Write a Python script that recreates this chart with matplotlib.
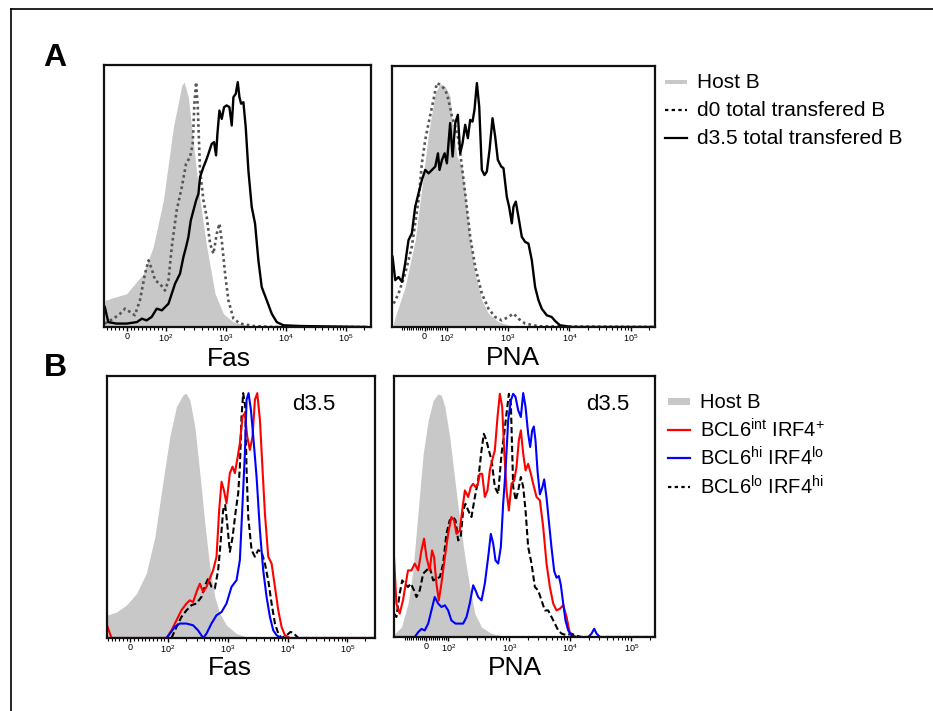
import matplotlib
matplotlib.use('Agg')
import matplotlib.pyplot as plt
from matplotlib.lines import Line2D
from matplotlib.patches import Rectangle

plt.rcParams['font.family'] = ['Liberation Sans', 'DejaVu Sans']
plt.rcParams['mathtext.fontset'] = 'custom'
plt.rcParams['mathtext.rm'] = 'Liberation Sans'
plt.rcParams['mathtext.it'] = 'Liberation Sans:italic'
plt.rcParams['mathtext.default'] = 'regular'
plt.rcParams['lines.solid_joinstyle'] = 'round'

# ---- A: Fas (x = fluorescence, y = % of max) ----
a_fas_host_x = [-56, 0, 43, 68, 94, 134, 185, 202, 238, 289, 372, 481, 662, 912, 1337, 2531, 6180]
a_fas_host_y = [10.9, 13.6, 21.8, 32.7, 51.7, 81.6, 98.6, 100, 93.9, 74.8, 51.7, 32.7, 13.6, 5.4, 2.0, 0.4, 0]

a_fas_d0_x = [-56, -34, -17, -4, 9, 21, 34, 47, 56, 64, 73, 85, 98, 111, 126, 152, 185, 218, 254,
              281, 300, 320, 341, 372, 424, 481, 547, 621, 706, 782, 855, 971, 1103, 1337, 1726,
              2878, 6180, 220800]
a_fas_d0_y = [1.4, 3.4, 5.4, 7.5, 6.1, 4.8, 10.9, 21.8, 27.2, 23.8, 19, 17.7, 14.9, 19, 32.7, 47.6,
              57.1, 66.7, 69.4, 74.8, 91.2, 100, 89.8, 63.9, 51.7, 44.9, 34, 29.9, 38.1, 42.2, 35.4,
              21.8, 10.9, 3.4, 1.4, 0.4, 0, 0]

a_fas_d35_x = [-56, -47, -26, 0, 26, 39, 51, 64, 77, 90, 111, 143, 173, 197, 218, 238, 261, 289,
               320, 350, 372, 424, 469, 513, 582, 637, 688, 724, 782, 855, 935, 1035, 1146, 1253,
               1337, 1462, 1578, 1683, 1792, 1959, 2142, 2372, 2697, 3063, 3480, 3954, 4795, 5808,
               7035, 9078, 17200, 220800]
a_fas_d35_y = [8.2, 2.0, 1.4, 1.4, 2.0, 3.4, 2.7, 4.1, 7.5, 6.8, 9.5, 17.7, 21.8, 28.6, 32.7, 36.7,
               43.5, 47.6, 51.7, 54.4, 61.2, 65.3, 68, 70.7, 74.8, 75.5, 70.1, 78.9, 88.4, 85, 89.8,
               90.5, 89.8, 82.3, 93.9, 95.2, 100, 93.9, 91.2, 91.8, 81.6, 63.9, 49, 42.2, 27.2, 16.3,
               10.9, 5.4, 2.0, 0.7, 0.4, 0]

# ---- A: PNA ----
a_pna_host_x = [-140, -130, -87, -42, -19, 3, 18, 48, 70, 93, 113, 121, 146, 176, 199, 240, 290,
                372, 478, 695, 1148, 2754]
a_pna_host_y = [1.4, 4.1, 16.4, 35.6, 52.1, 68.5, 79.5, 95.9, 99.7, 98.6, 94.5, 84.9, 69.9, 65.8,
                54.8, 35.6, 21.9, 11, 5.5, 2.1, 0.4, 0]

a_pna_d0_x = [-138, -115, -87, -57, -27, -12, 3, 18, 40, 55, 70, 93, 106, 121, 137, 155, 176, 199,
              240, 290, 372, 478, 614, 788, 1012, 1222, 1473, 1892, 3126, 249000]
a_pna_d0_y = [9.6, 13.7, 21.9, 32.9, 52.1, 67.1, 76.7, 83.6, 93.2, 100, 99.3, 97.3, 93.2, 86.3, 82.2,
              76.7, 65.8, 54.8, 37, 24.7, 13.7, 7.5, 4.1, 2.7, 4.1, 5.5, 3.4, 1.4, 0.3, 0]

a_pna_d35_x = [-144, -130, -115, -101, -87, -72, -57, -42, -27, -12, 3, 18, 33, 48, 60, 67, 78, 90,
               100, 113, 124, 137, 151, 165, 180, 199, 220, 240, 262, 282, 309, 337, 372, 411, 449,
               497, 556, 614, 679, 770, 840, 951, 1038, 1148, 1222, 1334, 1473, 1671, 1892, 2147,
               2434, 2757, 3126, 3540, 4269, 5150, 5835, 7040, 10900, 249000]
a_pna_d35_y = [28.8, 19.2, 20.5, 18.5, 26, 35.6, 38.4, 49.3, 54.8, 60.3, 64.4, 63, 64.4, 65.8, 71.2,
               64.4, 68.5, 71.2, 67.1, 83.6, 69.9, 83.6, 87, 71.2, 75.3, 82.9, 77.4, 84.9, 84.2, 89,
               100, 90.4, 64.4, 62.3, 63.7, 72.6, 85.6, 78.1, 68.5, 65.8, 65.1, 53.4, 49.3, 42.5,
               49.3, 51.4, 45.2, 37, 34.9, 34.2, 27.4, 16.4, 11, 7.5, 4.8, 4.1, 2.5, 0.7, 0, 0]

# ---- B: Fas, d3.5 ----
b_fas_host_x = [-62, -37, -11, 16, 42, 65, 87, 107, 138, 178, 198, 231, 280, 340, 412, 499, 605,
                735, 950, 1398, 2336]
b_fas_host_y = [9.3, 10.6, 13.4, 18.1, 26.3, 41.3, 64.5, 82.3, 94.5, 99.3, 100, 97.3, 86.4, 67.3,
                46.8, 29.1, 16.8, 10, 5.2, 1.8, 0]

b_fas_int_x = [-62, -50, 96, 114, 138, 167, 203, 231, 262, 306, 340, 386, 439, 499, 568, 646, 716,
               784, 858, 950, 1080, 1198, 1310, 1432, 1588, 1761, 1927, 2110, 2336, 2590, 2836,
               3105, 3440, 3810, 4170, 4743, 5395, 6137, 6980, 7930, 9020, 10940, 291000]
b_fas_int_y = [5.2, 0, 0, 3.1, 7.2, 11.3, 14.1, 15.4, 14.7, 19.5, 22.2, 18.8, 20.9, 24.3, 27.7,
               33.2, 52.3, 63.8, 60.4, 55, 67.3, 70, 67.3, 72.7, 79.5, 90.5, 91.8, 82.3, 76.8,
               82.3, 97.3, 100, 89.1, 68.6, 50.9, 33.2, 30.4, 20.9, 11.3, 4.5, 1.1, 0, 0]

b_fas_hi_x = [-62, 96, 107, 129, 157, 203, 262, 318, 386, 439, 532, 646, 784, 950, 1151, 1398,
              1588, 1761, 1927, 2056, 2220, 2430, 2660, 3022, 3440, 3908, 4446, 5058, 5754, 6546,
              7930, 291000]
b_fas_hi_y = [0, 0, 1.8, 4.5, 5.9, 5.9, 5.2, 3.1, 0, 1.8, 5.9, 9.3, 10.6, 14.1, 20.9, 23.6, 31.8,
              55, 75.4, 97.3, 100, 93.2, 82.3, 65.9, 44, 27.6, 16.8, 8.6, 3.1, 1.1, 0, 0]

b_fas_lo_x = [114, 138, 167, 203, 246, 298, 362, 428, 468, 532, 605, 688, 754, 835, 902, 974, 1080,
              1198, 1361, 1489, 1588, 1694, 1806, 1952, 2056, 2193, 2495, 2836, 3223, 3664, 4170,
              4743, 5395, 6137, 6980, 7930, 9616, 11220, 12770, 15090, 291000]
b_fas_lo_y = [0, 4.5, 8.6, 11.3, 13.4, 14.1, 16.8, 22.2, 24.3, 20.9, 20.2, 27.7, 38.6, 52.3, 54.3,
              46.8, 35.2, 41.1, 52.3, 59, 69.9, 90.5, 100, 94.5, 68.6, 49.5, 35.9, 33.2, 35.9, 35.2,
              30.4, 23.5, 14.1, 5.9, 1.8, 0, 1.1, 2.5, 1.8, 0, 0]

# ---- B: PNA, d3.5 ----
b_pna_host_x = [-146, -113, -85, -62, -38, -15, 8, 31, 54, 69, 85, 106, 129, 155, 188, 226, 274,
                352, 513, 849, 1406]
b_pna_host_y = [1.4, 4.1, 13.7, 27.3, 51.9, 75.1, 88.8, 97, 99.7, 99, 94.3, 82, 64.2, 47.8, 32.8,
                20.5, 9.6, 4.1, 1.4, 0.3, 0]

b_pna_int_x = [-150, -137, -121, -107, -85, -69, -54, -38, -23, -11, 0, 15, 26, 35, 46, 57, 69, 85,
               100, 113, 125, 137, 155, 170, 188, 213, 235, 257, 281, 303, 331, 361, 399, 441, 482,
               526, 582, 644, 703, 768, 828, 904, 988, 1092, 1208, 1319, 1440, 1553, 1698, 1854,
               2047, 2265, 2473, 2805, 3183, 3608, 4093, 4642, 5264, 5973, 6776, 7681, 8710, 9880,
               11200, 244000]
b_pna_int_y = [32.8, 13.7, 9.6, 15, 27.3, 27.3, 30.1, 27.3, 35.5, 40.3, 32.8, 27.3, 35.5, 32.8,
               21.9, 15, 21.9, 32.8, 42.3, 49.2, 47.8, 42.3, 43.7, 51.9, 60.1, 57.4, 61.5, 62.8,
               61.5, 62.2, 66.9, 66.9, 57.4, 60.1, 68.3, 72.4, 76.5, 90.2, 99.7, 94.3, 76.5, 60.1,
               51.9, 62.8, 64.2, 69.7, 80.6, 84.7, 75.1, 68.3, 71, 66.9, 62.8, 57.4, 56, 45.1, 30.1,
               20.5, 13.7, 10.9, 11.6, 13, 8.2, 1.4, 0, 0]

b_pna_hi_x = [-150, -54, -38, -23, -8, 8, 23, 38, 54, 69, 85, 100, 113, 132, 155, 176, 200, 226,
              257, 281, 310, 352, 399, 453, 500, 547, 597, 661, 730, 797, 871, 963, 1065, 1163,
              1271, 1406, 1553, 1698, 1854, 2047, 2208, 2382, 2536, 2703, 2914, 3183, 3475, 3748,
              4093, 4467, 4940, 5465, 5973, 6516, 7030, 7681, 8375, 9268, 10510, 12700, 19730,
              22390, 24740, 27020, 30650, 244000]
b_pna_hi_y = [0, 0, 2, 3.3, 2.7, 5.5, 10.9, 16.4, 13.7, 12.3, 13, 10.9, 6.8, 5.5, 5.5, 5.5, 8.2,
              13.7, 21.2, 19.1, 16.4, 15, 21.9, 32.8, 42.3, 38.3, 31.4, 30.1, 36.9, 54.6, 68.3,
              88.8, 97, 99.7, 98.4, 92.9, 90.2, 100, 94.3, 83.3, 77.9, 84.7, 86.3, 80.3, 68, 58.5,
              61.2, 64.6, 57.1, 47.5, 36.6, 27, 24.3, 25, 21.2, 13.7, 6.8, 2.7, 0.7, 0, 0, 1.4, 3.4,
              1.4, 0, 0]

b_pna_lo_x = [-150, -137, -121, -110, -100, -85, -72, -57, -46, -31, -15, 0, 15, 31, 46, 62, 77, 92,
              106, 121, 132, 146, 161, 176, 192, 213, 241, 274, 310, 352, 384, 425, 464, 513, 582,
              661, 749, 828, 904, 988, 1065, 1163, 1285, 1406, 1553, 1698, 1854, 2047, 2323, 2636,
              2986, 3388, 3845, 4355, 4940, 5610, 6360, 7220, 8710, 10510, 11940, 15350, 244000]
b_pna_lo_y = [9.6, 8.2, 17.8, 23.2, 21.9, 20.5, 21.9, 19.1, 16.4, 19.1, 26, 27.3, 28.7, 23.2, 23.9,
              24.6, 30.1, 42.3, 47.8, 49.2, 47.8, 39.6, 41, 51.9, 54.6, 51.9, 49.2, 57.4, 64.2,
              76.5, 83.3, 80.6, 76.5, 72.7, 61.5, 58.7, 75.1, 83.3, 91.5, 99.7, 95.6, 61.5, 56,
              60.1, 65.6, 61.5, 51.9, 36.9, 30.1, 20.5, 19.1, 15, 10.9, 10.9, 8.2, 5.5, 2.7, 1.4,
              0.7, 1.4, 0.7, 0, 0]

tick_vals = [0, 1e2, 1e3, 1e4, 1e5]
tick_labels = ['0', '$10^2$', '$10^3$', '$10^4$', '$10^5$']

HOST = '#c8c8c8'
W, H = 933, 711


def px_box(left, top, right, bottom):
    # pixel box -> figure fraction rect
    return [left / W, 1 - bottom / H, (right - left) / W, (bottom - top) / H]


def setup_axis(ax, xlim, linscale, xlabel, label_x, label_y):
    ax.set_xscale('symlog', linthresh=100, linscale=linscale)
    ax.set_xlim(*xlim)
    ax.set_ylim(0, 107)
    ax.set_yticks([])
    ax.set_xticks(tick_vals)
    ax.set_xticklabels(tick_labels, fontsize=6.5)
    minor = [-m * 10 ** k for k in (1, 2) for m in range(1, 10)]
    minor += [m * 10 ** k for k in (1, 2, 3, 4, 5) for m in range(1, 10) if m > 1 or k == 1]
    minor = [v for v in minor if xlim[0] < v < xlim[1]]
    ax.set_xticks(minor, minor=True)
    ax.tick_params(axis='x', which='major', direction='out', length=3, width=1, pad=0.5)
    ax.tick_params(axis='x', which='minor', direction='out', length=2, width=0.8)
    for s in ax.spines.values():
        s.set_linewidth(1.6)
        s.set_color('#111111')
    # baseline placed below the tick labels
    ax.text(label_x, label_y, xlabel, transform=ax.transAxes, fontsize=19,
            ha='center', va='baseline')


fig = plt.figure(figsize=(9.33, 7.11), dpi=100)

# A, Fas
ax = fig.add_axes(px_box(104, 65, 371, 327))
ax.fill_between(a_fas_host_x, a_fas_host_y, color=HOST, lw=0)
ax.plot(a_fas_d0_x, a_fas_d0_y, color='#555555', lw=1.9, ls=(0, (1, 1.2)))
ax.plot(a_fas_d35_x, a_fas_d35_y, color='black', lw=1.7)
setup_axis(ax, (-58, 2.6e5), 0.585, 'Fas', 0.468, -0.147)

# A, PNA
ax = fig.add_axes(px_box(392, 66, 655, 327))
ax.fill_between(a_pna_host_x, a_pna_host_y, color=HOST, lw=0)
ax.plot(a_pna_d0_x, a_pna_d0_y, color='#555555', lw=1.9, ls=(0, (1, 1.2)))
ax.plot(a_pna_d35_x, a_pna_d35_y, color='black', lw=1.7)
setup_axis(ax, (-147, 2.5e5), 0.328, 'PNA', 0.46, -0.147)

# B, Fas
ax = fig.add_axes(px_box(107, 376, 375, 638))
ax.fill_between(b_fas_host_x, b_fas_host_y, color=HOST, lw=0)
ax.plot(b_fas_lo_x, b_fas_lo_y, color='black', lw=1.5, ls=(0, (3, 1.5)))
ax.plot(b_fas_int_x, b_fas_int_y, color='#ff0000', lw=1.5)
ax.plot(b_fas_hi_x, b_fas_hi_y, color='#0000ff', lw=1.5)
ax.text(0.77, 0.89, 'd3.5', transform=ax.transAxes, fontsize=16, ha='center', va='center')
setup_axis(ax, (-62, 2.9e5), 0.568, 'Fas', 0.46, -0.143)

# B, PNA
ax = fig.add_axes(px_box(394, 376, 655, 637))
ax.fill_between(b_pna_host_x, b_pna_host_y, color=HOST, lw=0)
ax.plot(b_pna_lo_x, b_pna_lo_y, color='black', lw=1.5, ls=(0, (3, 1.5)))
ax.plot(b_pna_int_x, b_pna_int_y, color='#ff0000', lw=1.5)
ax.plot(b_pna_hi_x, b_pna_hi_y, color='#0000ff', lw=1.5)
ax.text(0.82, 0.89, 'd3.5', transform=ax.transAxes, fontsize=16, ha='center', va='center')
setup_axis(ax, (-150, 2.45e5), 0.32, 'PNA', 0.464, -0.145)


def legend_row(y, label, kind, color='black', ls='-', x0=665, x1=687, tx=697, bar=4, size=15):
    yf = 1 - y / H
    if kind == 'patch':
        fig.add_artist(Rectangle((x0 / W, yf - bar / 2 / H), (x1 - x0) / W, bar / H,
                                 transform=fig.transFigure, color=HOST, lw=0))
    else:
        fig.add_artist(Line2D([x0 / W, x1 / W], [yf, yf], transform=fig.transFigure,
                              color=color, ls=ls, lw=1.6))
    fig.text(tx / W, yf, label, fontsize=size, ha='left', va='center')


legend_row(82, 'Host B', 'patch')
legend_row(110, 'd0 total transfered B', 'line', ls=(0, (1.5, 1.5)))
legend_row(138, 'd3.5 total transfered B', 'line')

legend_row(402, 'Host B', 'patch', x0=668, x1=690, tx=700, bar=7, size=14.5)
legend_row(430, 'BCL6$^{int}$ IRF4$^{+}$', 'line', color='#ff0000', x0=668, x1=690, tx=700, size=14.5)
legend_row(458, 'BCL6$^{hi}$ IRF4$^{lo}$', 'line', color='#0000ff', x0=668, x1=690, tx=700, size=14.5)
legend_row(487, 'BCL6$^{lo}$ IRF4$^{hi}$', 'line', ls=(0, (1.5, 1.5)), x0=668, x1=690, tx=700, size=14.5)

# panel letters
fig.text(55 / W, 1 - 58 / H, 'A', fontsize=23, weight='bold', ha='center', va='center')
fig.text(55 / W, 1 - 368 / H, 'B', fontsize=23, weight='bold', ha='center', va='center')

# outer frame (left and top edges)
fig.add_artist(Line2D([11 / W, 11 / W], [0, 1 - 9 / H], transform=fig.transFigure,
                      color='black', lw=1.2))
fig.add_artist(Line2D([11 / W, 1], [1 - 9 / H, 1 - 9 / H], transform=fig.transFigure,
                      color='black', lw=1.2))

fig.savefig('out.png', dpi=100)
